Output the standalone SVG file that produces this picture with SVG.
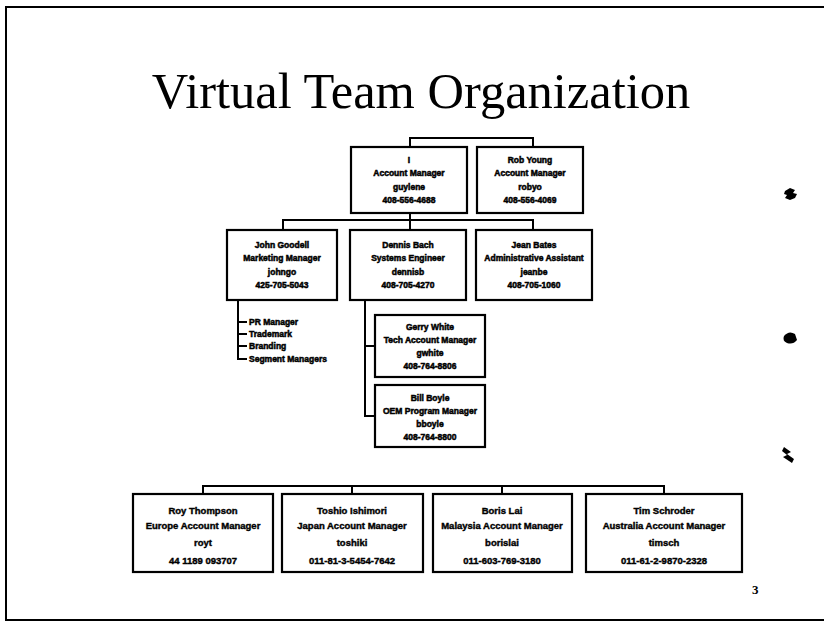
<svg xmlns="http://www.w3.org/2000/svg" width="824" height="623" viewBox="0 0 824 623">
  <style>
    .box { fill: #fff; stroke: #000; stroke-width: 2.2; }
    .wire { fill: none; stroke: #000; stroke-width: 2; }
    .t { font-family: "Liberation Sans", Arial, sans-serif; font-weight: bold; font-size: 8.5px; text-anchor: middle; fill: #000; stroke: #000; stroke-width: 0.5; }
    .tb { font-family: "Liberation Sans", Arial, sans-serif; font-weight: bold; font-size: 9.5px; text-anchor: middle; fill: #000; stroke: #000; stroke-width: 0.4; }
    .li { font-family: "Liberation Sans", Arial, sans-serif; font-weight: bold; font-size: 8.5px; fill: #000; stroke: #000; stroke-width: 0.5; }
    .title { font-family: "Liberation Serif", "Times New Roman", serif; font-size: 50.5px; text-anchor: middle; fill: #000; }
  </style>
  <rect width="824" height="623" fill="#fff"/>

  <!-- slide frame -->
  <g id="frame" fill="none" stroke="#000" stroke-width="2">
    <path d="M824 7 H6 V620 H824"/>
  </g>

  <text class="title" x="421" y="108">Virtual Team Organization</text>

  <!-- connectors -->
  <g id="connectors" class="wire">
    <path d="M410 148 V138 H533 V148"/>
    <path d="M410 213 V220"/>
    <path d="M283 230 V220 H533 V230"/>
    <path d="M410 220 V230"/>
    <path d="M238 300 V360"/>
    <path d="M238 322 H247 M238 334 H247 M238 346 H247 M238 359 H247"/>
    <path d="M365 300 V416 H375 M365 346 H375"/>
    <path d="M203 494 V486 H664 V494 M352 486 V494 M502 486 V494"/>
  </g>

  <g id="mgr-self">
    <rect class="box" x="351" y="147" width="116" height="66"/>
    <text class="t" x="409" y="163">I</text>
    <text class="t" x="409" y="176">Account Manager</text>
    <text class="t" x="409" y="190">guylene</text>
    <text class="t" x="409" y="203">408-556-4688</text>
  </g>

  <g id="mgr-rob">
    <rect class="box" x="477" y="147" width="106" height="66"/>
    <text class="t" x="530" y="163">Rob Young</text>
    <text class="t" x="530" y="176">Account Manager</text>
    <text class="t" x="530" y="190">robyo</text>
    <text class="t" x="530" y="203">408-556-4069</text>
  </g>

  <g id="mkt-john">
    <rect class="box" x="227" y="230" width="110" height="70"/>
    <text class="t" x="282" y="248">John Goodell</text>
    <text class="t" x="282" y="261">Marketing Manager</text>
    <text class="t" x="282" y="275">johngo</text>
    <text class="t" x="282" y="288">425-705-5043</text>
  </g>

  <g id="mkt-list">
    <text class="li" x="249" y="325">PR Manager</text>
    <text class="li" x="249" y="337">Trademark</text>
    <text class="li" x="249" y="349">Branding</text>
    <text class="li" x="249" y="362">Segment Managers</text>
  </g>

  <g id="se-dennis">
    <rect class="box" x="350" y="230" width="116" height="70"/>
    <text class="t" x="408" y="248">Dennis Bach</text>
    <text class="t" x="408" y="261">Systems Engineer</text>
    <text class="t" x="408" y="275">dennisb</text>
    <text class="t" x="408" y="288">408-705-4270</text>
  </g>

  <g id="admin-jean">
    <rect class="box" x="476" y="230" width="116" height="70"/>
    <text class="t" x="534" y="248">Jean Bates</text>
    <text class="t" x="534" y="261">Administrative Assistant</text>
    <text class="t" x="534" y="275">jeanbe</text>
    <text class="t" x="534" y="288">408-705-1060</text>
  </g>

  <g id="tam-gerry">
    <rect class="box" x="375" y="315" width="110" height="62"/>
    <text class="t" x="430" y="330">Gerry White</text>
    <text class="t" x="430" y="343">Tech Account Manager</text>
    <text class="t" x="430" y="356">gwhite</text>
    <text class="t" x="430" y="369">408-764-8806</text>
  </g>

  <g id="oem-bill">
    <rect class="box" x="375" y="385" width="110" height="62"/>
    <text class="t" x="430" y="401">Bill Boyle</text>
    <text class="t" x="430" y="414">OEM Program Manager</text>
    <text class="t" x="430" y="427">bboyle</text>
    <text class="t" x="430" y="440">408-764-8800</text>
  </g>

  <g id="am-europe">
    <rect class="box" x="133" y="494" width="140" height="78"/>
    <text class="tb" x="203" y="514">Roy Thompson</text>
    <text class="tb" x="203" y="529">Europe Account Manager</text>
    <text class="tb" x="203" y="546">royt</text>
    <text class="tb" x="203" y="564">44 1189 093707</text>
  </g>

  <g id="am-japan">
    <rect class="box" x="282" y="494" width="141" height="78"/>
    <text class="tb" x="352" y="514">Toshio Ishimori</text>
    <text class="tb" x="352" y="529">Japan Account Manager</text>
    <text class="tb" x="352" y="546">toshiki</text>
    <text class="tb" x="352" y="564">011-81-3-5454-7642</text>
  </g>

  <g id="am-malaysia">
    <rect class="box" x="433" y="494" width="139" height="78"/>
    <text class="tb" x="502" y="514">Boris Lai</text>
    <text class="tb" x="502" y="529">Malaysia Account Manager</text>
    <text class="tb" x="502" y="546">borislai</text>
    <text class="tb" x="502" y="564">011-603-769-3180</text>
  </g>

  <g id="am-australia">
    <rect class="box" x="586" y="494" width="156" height="78"/>
    <text class="tb" x="664" y="514">Tim Schroder</text>
    <text class="tb" x="664" y="529">Australia Account Manager</text>
    <text class="tb" x="664" y="546">timsch</text>
    <text class="tb" x="664" y="564">011-61-2-9870-2328</text>
  </g>

  <text x="752" y="594" font-family="Liberation Serif, serif" font-weight="bold" font-size="13" fill="#000">3</text>

  <!-- small marks along the right edge -->
  <g id="edge-marks" fill="#000">
    <path d="M785 191 l5 -3 l5 2 l-2 3 l4 1 l-2 4 l-5 2 l-5 -2 l2 -3 l-3 -1 z"/>
    <path d="M784 336 q5 -6 11 -2 l2 6 q-4 5 -10 3 q-5 -2 -3 -7 z"/>
    <path d="M784 447 l7 5 l-4 2 l7 5 l-2 4 l-9 -6 l4 -2 l-5 -4 z"/>
  </g>
</svg>
